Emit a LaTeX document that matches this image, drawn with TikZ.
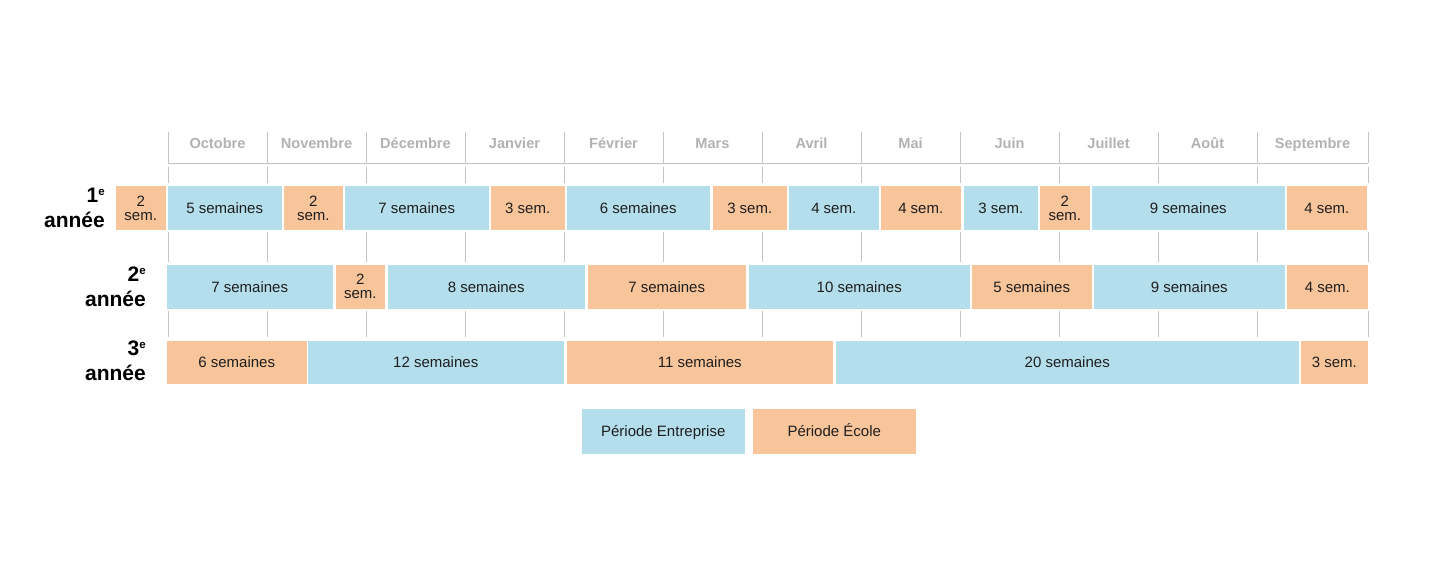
\documentclass[tikz,border=0pt]{standalone}
\usepackage{fontspec}
\setmainfont{Liberation Sans}
\definecolor{entr}{RGB}{180,222,236}
\definecolor{ecole}{RGB}{248,197,154}
\definecolor{gridc}{RGB}{196,196,196}
\definecolor{monthc}{RGB}{178,178,178}
\definecolor{txt}{RGB}{30,30,30}
\newcommand\yrsup[1]{\raisebox{7pt}{\fontsize{11.5}{11.5}\selectfont #1}}
\newcommand\seg[7]{\node[#6, minimum width={(#4-#3)*1pt}, minimum height={#5*1pt}] (#1) at (#3,#2) {#7};}
\tikzset{
  segbox/.style={inner sep=0pt, outer sep=0pt, anchor=north west, align=center,
    font=\fontsize{15}{14}\selectfont, text=txt},
  ent/.style={segbox, fill=entr},
  eco/.style={segbox, fill=ecole},
  one/.style={text height=10.7pt, text depth=0pt},
  gridline/.style={draw=gridc, line width=1pt},
  month/.style={font=\bfseries\fontsize{14.6}{15}\selectfont, text=monthc, inner sep=0pt, anchor=base},
  year/.style={font=\bfseries\fontsize{21}{25}\selectfont, align=right, anchor=south east, inner sep=0pt, text=black},
}
\begin{document}
\begin{tikzpicture}[x=1pt,y=-1pt]
\useasboundingbox (0,0) rectangle (1440,582);
% month boundaries
\foreach \i/\x in {0/168,1/267,2/366,3/465,4/564,5/663,6/762,7/861,8/960,9/1059,10/1158,11/1257,12/1368}{
  \coordinate (b\i) at (\x,0);
  \draw[gridline] (\x,132) -- (\x,163);
  \draw[gridline] (\x,167) -- (\x,183);
  \draw[gridline] (\x,232) -- (\x,262);
  \draw[gridline] (\x,311) -- (\x,337);
}
\draw[gridline] (168,163) -- (1368,163);
% months
\foreach \n/\t/\a/\b in {m1/Octobre/168/267, m2/Novembre/267/366, m3/Décembre/366/465,
  m4/Janvier/465/564, m5/Février/564/663, m6/Mars/663/762, m7/Avril/762/861, m8/Mai/861/960,
  m9/Juin/960/1059, m10/Juillet/1059/1158, m11/Août/1158/1257, m12/Septembre/1257/1368}{
  \node[month] (\n) at ({(\a+\b)/2},148) {\t};
}
% year labels
\node[year] (y1) at (105,228) {1\yrsup{e}\\année};
\node[year] (y2) at (146,307) {2\yrsup{e}\\année};
\node[year] (y3) at (146,381) {3\yrsup{e}\\année};
% row 1
\seg{a1}{186}{116}{165.5}{44}{eco}{2\\sem.}
\seg{a2}{186}{168}{281.5}{44}{ent,one}{5 semaines}
\seg{a3}{186}{284}{342.5}{44}{eco}{2\\sem.}
\seg{a4}{186}{345}{488.5}{44}{ent,one}{7 semaines}
\seg{a5}{186}{491}{564.5}{44}{eco,one}{3 sem.}
\seg{a6}{186}{567}{709.5}{44}{ent,one}{6 semaines}
\seg{a7}{186}{713}{786.5}{44}{eco,one}{3 sem.}
\seg{a8}{186}{789}{878.5}{44}{ent,one}{4 sem.}
\seg{a9}{186}{881}{960.5}{44}{eco,one}{4 sem.}
\seg{a10}{186}{964}{1037.5}{44}{ent,one}{3 sem.}
\seg{a11}{186}{1040}{1089.5}{44}{eco}{2\\sem.}
\seg{a12}{186}{1092}{1284.5}{44}{ent,one}{9 semaines}
\seg{a13}{186}{1287}{1366.5}{44}{eco,one}{4 sem.}
% row 2
\seg{c1}{265}{167}{332.5}{43.5}{ent,one}{7 semaines}
\seg{c2}{265}{336}{384.5}{43.5}{eco}{2\\sem.}
\seg{c3}{265}{388}{584.5}{43.5}{ent,one}{8 semaines}
\seg{c4}{265}{588}{745.5}{43.5}{eco,one}{7 semaines}
\seg{c5}{265}{749}{969.5}{43.5}{ent,one}{10 semaines}
\seg{c6}{265}{972}{1091.5}{43.5}{eco,one}{5 semaines}
\seg{c7}{265}{1094}{1284.5}{43.5}{ent,one}{9 semaines}
\seg{c8}{265}{1287}{1367.5}{43.5}{eco,one}{4 sem.}
% row 3
\seg{d1}{341}{167}{306.5}{42.5}{eco,one}{6 semaines}
\seg{d2}{341}{308}{563.5}{42.5}{ent,one}{12 semaines}
\seg{d3}{341}{567}{832.5}{42.5}{eco,one}{11 semaines}
\seg{d4}{341}{836}{1298.5}{42.5}{ent,one}{20 semaines}
\seg{d5}{341}{1301}{1367.5}{42.5}{eco,one}{3 sem.}
% legend
\seg{le}{409}{582}{744.5}{44.5}{ent,one}{Période Entreprise}
\seg{lc}{409}{753}{915.5}{44.5}{eco,one}{Période École}
\end{tikzpicture}
\end{document}
